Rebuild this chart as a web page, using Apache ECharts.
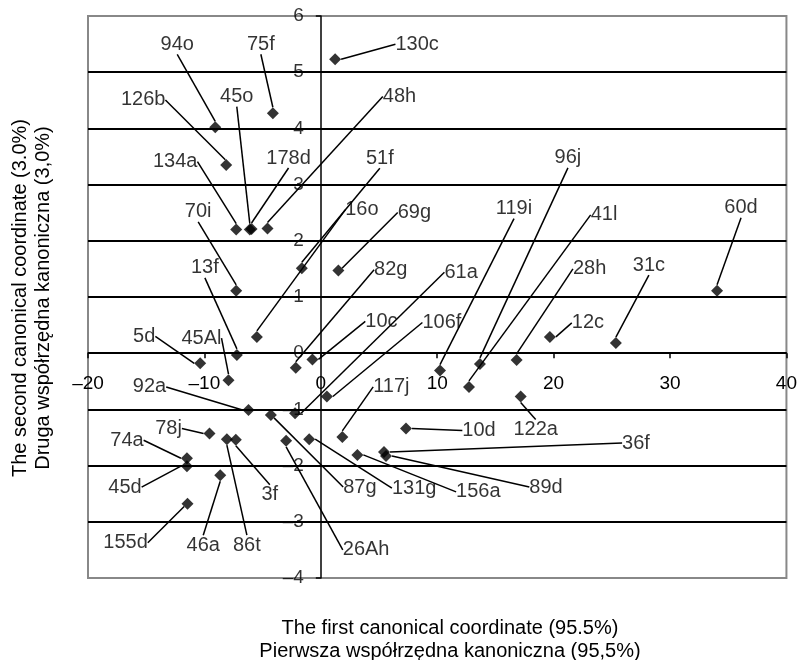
<!DOCTYPE html>
<html>
<head>
<meta charset="utf-8">
<script src="https://cdn.jsdelivr.net/npm/echarts@6/dist/echarts.min.js"></script>
<style>html,body{margin:0;padding:0;background:#fff}#c{width:800px;height:660px}</style>
</head>
<body>
<div id="c"></div>
<script>
// ---- data ----
const names = ['130c','94o','75f','126b','45o','134a','178d','48h','51f','16o','69g','70i','13f','82g','10c','61a','106f','119i','96j','41l','28h','12c','31c','60d','5d','45Al','92a','117j','10d','122a','36f','89d','156a','131g','87g','26Ah','3f','78j','74a','45d','155d','46a','86t'];
const xValues = [1.23,-9.07,-4.12,-8.13,-6.1,-7.27,-5.95,-4.58,-1.63,-5.49,1.51,-7.27,-7.21,-2.15,-0.72,-2.21,0.52,10.24,13.67,12.73,16.82,19.68,25.35,34.04,-10.36,-7.93,-6.21,1.85,7.32,17.17,5.43,5.6,3.14,-1.0,-4.29,-2.98,-7.3,-9.56,-11.5,-11.5,-11.45,-8.64,-8.07];
const yValues = [5.23,4.02,4.27,3.35,2.2,2.2,2.21,2.22,1.51,0.29,1.47,1.11,-0.03,-0.26,-0.11,-1.07,-0.77,-0.31,-0.19,-0.6,-0.12,0.29,0.18,1.11,-0.18,-0.48,-1.01,-1.49,-1.34,-0.77,-1.76,-1.83,-1.81,-1.53,-1.1,-1.56,-1.54,-1.43,-1.87,-2.01,-2.68,-2.17,-1.53];
const yTicks = [-4,-3,-2,-1,0,1,2,3,4,5,6];
const xTitle = 'The first canonical coordinate (95.5%)\nPierwsza współrzędna kanoniczna (95,5%)';
const yTitle = 'The second canonical coordinate (3.0%)\nDruga współrzędna kanoniczna (3,0%)';

// ---- label placement (pixel offsets of label centre from its point) ----
const labelOffsets = [
  [82,-15],[-38,-83],[-12,-69],[-83,-65],[-13,-133],[-61,-68],[37,-71],[132,-132],[78,-110],[105,-127],
  [76,-58],[-38,-79],[-32,-87],[95,-98],[69,-38],[166,-141],[115,-74],[74,-162],[88,-206],[135,-172],
  [73,-91],[38,-14],[33,-78],[24,-83],[-56,-27],[-27,-42],[-99,-23],[49,-50],[73,2],[15,33],
  [252,-9],[160,31],[121,37],[105,49],[89,72],[80,109],[34,55],[-41,-5],[-60,-18],[-62,21],
  [-62,39],[-17,70],[20,106]
];

const FONT = "'Liberation Sans', Arial, sans-serif";
const data = names.map((n, i) => [xValues[i], yValues[i], n]);
const minusFmt = v => String(v).replace('-', '\u2013');

const chart = echarts.init(document.getElementById('c'), null, {renderer: 'canvas'});
chart.setOption({
  animation: false,
  backgroundColor: '#fff',
  grid: {left: 88, right: 13, top: 16, bottom: 82, show: true, borderColor: '#888', borderWidth: 2, backgroundColor: '#fff'},
  xAxis: {
    type: 'value', min: -20, max: 40, interval: 10, position: 'bottom',
    axisLine: {onZero: false, lineStyle: {color: '#000', width: 1.5}},
    axisTick: {show: true, length: 5, lineStyle: {color: '#000', width: 1.5}},
    axisLabel: {color: '#000', fontSize: 19, fontFamily: FONT, margin: 21, formatter: minusFmt},
    splitLine: {show: false}
  },
  yAxis: {
    type: 'value', min: -4, max: 6, interval: 1, position: 'left',
    axisLine: {onZero: false, lineStyle: {color: '#000', width: 1.5}},
    axisTick: {show: true, length: 5, lineStyle: {color: '#000', width: 1.5}},
    axisLabel: {show: false},
    splitLine: {show: true, lineStyle: {color: ['#888','#000','#000','#000','#000','#000','#000','#000','#000','#000','#888'], width: 2}}
  },
  graphic: [
    {type: 'text', x: 450, y: 640, style: {text: xTitle, font: '20px ' + FONT, fill: '#000', align: 'center', verticalAlign: 'middle', lineHeight: 23}},
    {type: 'text', x: 32, y: 298, rotation: Math.PI / 2, style: {text: yTitle, font: '20px ' + FONT, fill: '#000', align: 'center', verticalAlign: 'middle', lineHeight: 23}}
  ],
  series: [{
    type: 'scatter',
    data: data,
    symbol: 'diamond',
    symbolSize: 12,
    itemStyle: {color: '#000'},
    z: 5,
    label: {
      show: true, position: 'inside', formatter: p => p.data[2],
      color: '#000', fontSize: 20, fontFamily: FONT, align: 'center', verticalAlign: 'middle'
    },
    labelLine: {show: true, lineStyle: {color: '#000', width: 1.5}},
    labelLayout: function (params) {
      const o = labelOffsets[params.dataIndex];
      return {dx: o[0], dy: o[1]};
    },
    emphasis: {disabled: true}
  }, {
    // y tick labels placed beside the vertical axis at x = 0
    type: 'scatter',
    data: yTicks.map(v => [0, v]),
    symbol: 'circle',
    symbolSize: 2,
    itemStyle: {color: 'rgba(0,0,0,0)'},
    silent: true,
    z: 4,
    label: {
      show: true, position: 'left', distance: 16,
      formatter: p => minusFmt(p.data[1]),
      color: '#000', fontSize: 19, fontFamily: FONT
    },
    labelLayout: {hideOverlap: false, moveOverlap: false},
    emphasis: {disabled: true}
  }]
});

// move both axes (line, ticks, labels) so they cross at the origin
const origin = chart.convertToPixel({xAxisIndex: 0, yAxisIndex: 0}, [0, 0]);
const bottomPx = chart.convertToPixel({yAxisIndex: 0}, -4);
const leftPx = chart.convertToPixel({xAxisIndex: 0}, -20);
chart.setOption({
  xAxis: {offset: -(bottomPx - origin[1])},
  yAxis: {offset: -(origin[0] - leftPx)}
});
</script>
</body>
</html>
